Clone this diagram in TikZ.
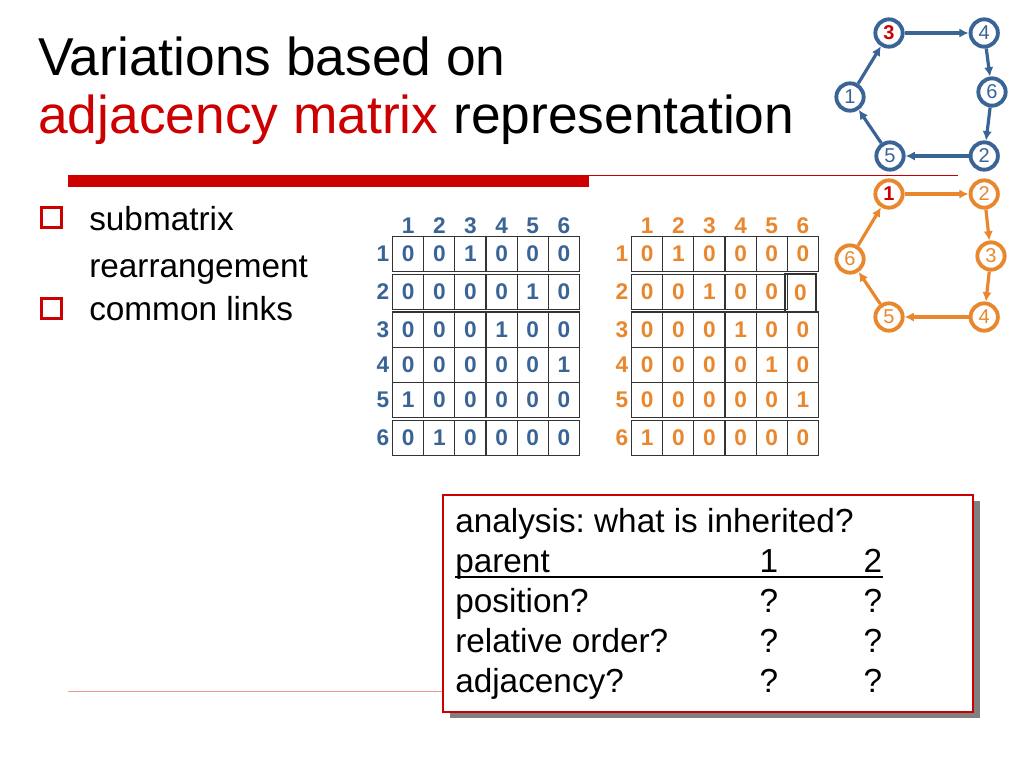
\documentclass[tikz,border=0pt]{standalone}
\usepackage{fontspec}
\setmainfont{Liberation Sans}
\usepackage{tikz}
\usetikzlibrary{positioning}
\usetikzlibrary{arrows.meta}
\usetikzlibrary{matrix}
\usetikzlibrary{shadows}

\definecolor{slidered}{RGB}{204,0,0}
\definecolor{matblue}{RGB}{58,100,150}
\definecolor{matorange}{RGB}{232,135,45}

\tikzset{
  title/.style={inner sep=0pt, anchor=base west, font=\fontsize{40}{40}\selectfont},
  body/.style={inner sep=0pt, anchor=base west, font=\fontsize{25}{25}\selectfont},
  col/.style={inner sep=0pt, anchor=base, font=\fontsize{25}{25}\selectfont},
  bullet/.style={draw=slidered, line width=2pt, minimum size=15pt, inner sep=0pt},
  gnode/.style={circle, minimum size=20.5pt, inner sep=0pt, font=\fontsize{15}{15}\selectfont},
  bnode/.style={gnode, draw=matblue, text=matblue, line width=2.9pt},
  onode/.style={gnode, draw=matorange, text=matorange, line width=2.9pt},
  bedge/.style={-{Latex[length=7pt,width=7pt]}, line width=2.4pt, draw=matblue},
  oedge/.style={-{Latex[length=7pt,width=7pt]}, line width=2.4pt, draw=matorange},
  cell/.style={draw=black!80, line width=0.9pt, minimum width=23.35pt, minimum height=26.4pt,
    inner sep=0pt, outer sep=0pt, font=\fontsize{17}{17}\selectfont\bfseries},
  adjmat/.style={matrix of nodes, inner sep=0pt, outer sep=0pt, column sep=-0.9pt, row sep=-0.9pt,
    anchor=south east, nodes={cell},
    row 1/.style={nodes={draw=none, minimum height=0pt, inner ysep=2.3pt}},
    column 1/.style={nodes={draw=none, minimum width=0pt, inner xsep=2.95pt}}},
  infobox/.style={draw=slidered, fill=white, line width=1.5pt, minimum width=397.5pt, minimum height=162.75pt,
    drop shadow={shadow xshift=5.5pt, shadow yshift=-4.5pt, fill=black!50, opacity=1}},
}

\begin{document}
\frenchspacing
\begin{tikzpicture}[x=0.75pt, y=-0.75pt]
  \useasboundingbox[fill=white] (0,0) rectangle (1024,768);
  % title %
  \node[title] (t1) at (38,75) {Variations based on};
  \node[title] (t2) at (38,133) {\textcolor{slidered}{adjacency matrix} representation};
  \fill[slidered] (68,175) rectangle (589,187);
  \draw[slidered, line width=0.75pt] (589,175.5) -- (958,175.5);
  \draw[slidered!40, line width=0.75pt] (68,691) -- (445,691);

  % bullets %
  \node[bullet] (sq1) at (51.7,217.5) {};
  \node[bullet] (sq2) at (51.7,308.5) {};
  \node[body] (sub) at (89,230) {submatrix};
  \node[body] (rea) at (89,277) {rearrangement};
  \node[body] (com) at (89,320) {common links};

  % matrices %
  \matrix (mb) [adjmat, nodes={text=matblue}] at (580,456) {
      & 1 & 2 & 3 & 4 & 5 & 6 \\
    1 & 0 & 0 & 1 & 0 & 0 & 0 \\[1.9pt]
    2 & 0 & 0 & 0 & 0 & 1 & 0 \\[1.9pt]
    3 & 0 & 0 & 0 & 1 & 0 & 0 \\
    4 & 0 & 0 & 0 & 0 & 0 & 1 \\
    5 & 1 & 0 & 0 & 0 & 0 & 0 \\[1.9pt]
    6 & 0 & 1 & 0 & 0 & 0 & 0 \\
  };
  \matrix (mo) [adjmat, nodes={text=matorange}] at (819,456) {
      & 1 & 2 & 3 & 4 & 5 & 6 \\
    1 & 0 & 1 & 0 & 0 & 0 & 0 \\[1.9pt]
    2 & 0 & 0 & 1 & 0 & 0 & |[draw=none]| \phantom{0} \\[1.9pt]
    3 & 0 & 0 & 0 & 1 & 0 & 0 \\
    4 & 0 & 0 & 0 & 0 & 1 & 0 \\
    5 & 0 & 0 & 0 & 0 & 0 & 1 \\[1.9pt]
    6 & 1 & 0 & 0 & 0 & 0 & 0 \\
  };
  \node[cell, text=matorange, minimum height=28.5pt] (mo-shift) at ([xshift=-1.75pt, yshift=-0.8pt]mo-3-7.center) {0};

  % parent graphs %
  \node[bnode, text=slidered] (b3) at (889,33) {\textbf{3}};
  \node[bnode, right=48pt of b3, on grid] (b4) {4};
  \node[bnode] (b6) at (992,92) {6};
  \node[bnode] (b5) at (890,156) {5};
  \node[bnode, right=47.25pt of b5, on grid] (b2) {2};
  \node[bnode] (b1) at (850,97) {1};

  \node[onode, text=slidered] (o1) at (889,194) {\textbf{1}};
  \node[onode, right=48pt of o1, on grid] (o2) {2};
  \node[onode] (o3) at (991,256) {3};
  \node[onode] (o5) at (889,317) {5};
  \node[onode, right=48pt of o5, on grid] (o4) {4};
  \node[onode] (o6) at (850,259) {6};
  % edges %
  \draw[bedge] (b3) -- (b4);
  \draw[bedge] (b4) -- (b6);
  \draw[bedge] (b6) -- (b2);
  \draw[bedge] (b2) -- (b5);
  \draw[bedge] (b5) -- (b1);
  \draw[bedge] (b1) -- (b3);

  \draw[oedge] (o1) -- (o2);
  \draw[oedge] (o2) -- (o3);
  \draw[oedge] (o3) -- (o4);
  \draw[oedge] (o4) -- (o5);
  \draw[oedge] (o5) -- (o6);
  \draw[oedge] (o6) -- (o1);

  % analysis box %
  \node[infobox] (box) at (708,603.5) {};
  \node[body] (ana) at (455,532) {analysis: what is inherited?};
  \node[body] (par) at (455,572) {parent};
  \node[col] (p1) at (769,572) {1};
  \node[col] (p2) at (873,572) {2};
  \draw[line width=1.1pt] ([yshift=-3.75pt]par.base west) -- ([yshift=-3.75pt]par.base west -| p2.east);
  \node[body] (pos) at (455,612) {position?};
  \node[col] (pos1) at (769,612) {?};
  \node[col] (pos2) at (873,612) {?};
  \node[body] (rel) at (455,652) {relative order?};
  \node[col] (rel1) at (769,652) {?};
  \node[col] (rel2) at (873,652) {?};
  \node[body] (adj) at (455,692) {adjacency?};
  \node[col] (adj1) at (769,692) {?};
  \node[col] (adj2) at (873,692) {?};
\end{tikzpicture}
\end{document}
